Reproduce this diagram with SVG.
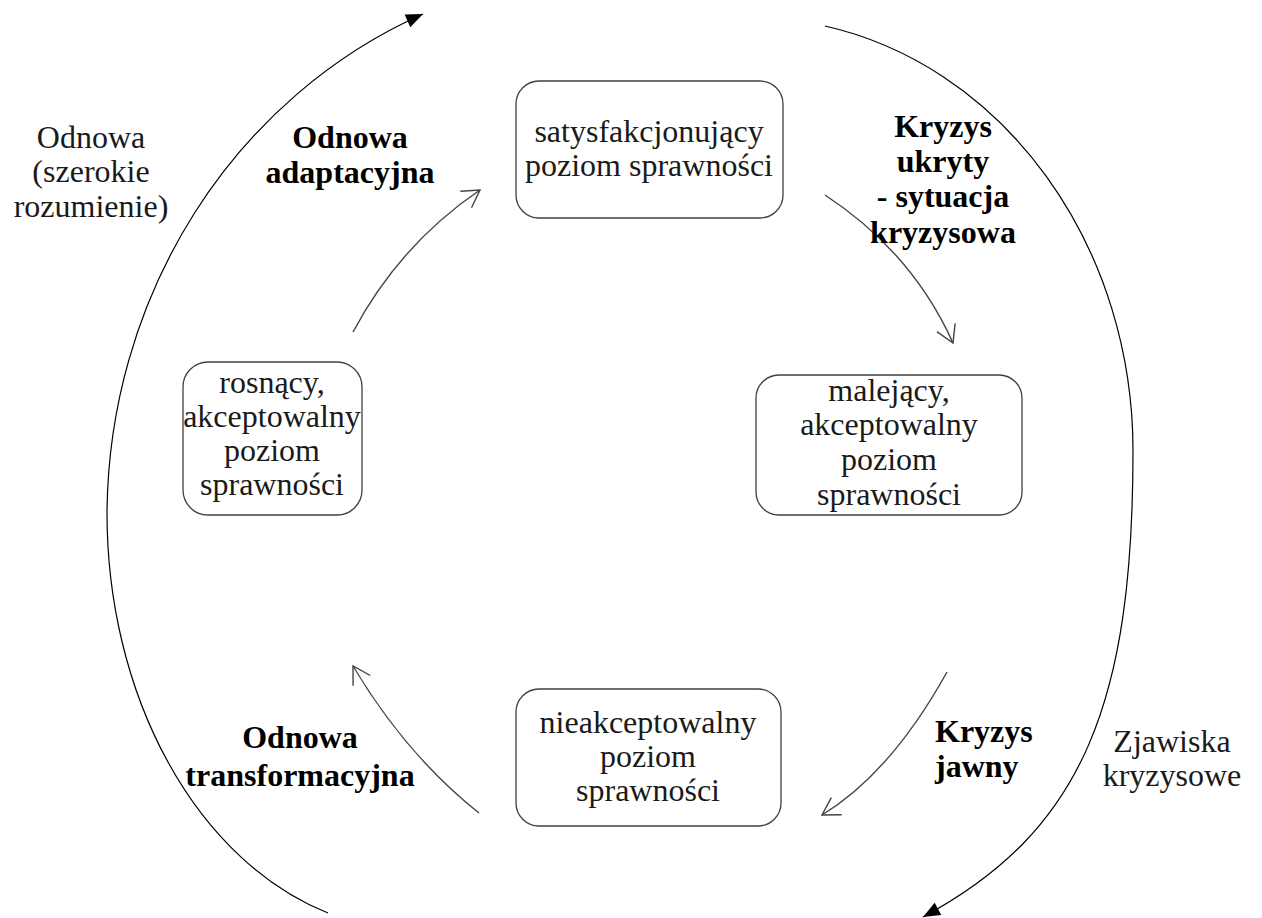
<svg xmlns="http://www.w3.org/2000/svg" width="1262" height="918" viewBox="0 0 1262 918">
  <defs>
    <style>
      .box { fill: #ffffff; stroke: #404040; stroke-width: 1.3; }
      .txt { font-family: "Liberation Serif", "Times New Roman", serif; font-size: 32px; fill: #1a1a1a; text-anchor: middle; }
      .lbl { font-family: "Liberation Serif", "Times New Roman", serif; font-size: 32px; font-weight: bold; fill: #000000; text-anchor: middle; }
      .lbl-start { text-anchor: start; }
      .outer { fill: none; stroke: #000000; stroke-width: 1.2; }
      .inner { fill: none; stroke: #444444; stroke-width: 1.4; }
    </style>
    <marker id="solidHead" markerUnits="userSpaceOnUse" viewBox="-19 -9 21 18" markerWidth="21" markerHeight="18" refX="0" refY="0" orient="auto">
      <path d="M0,0 L-17,-7 L-17,7 Z" fill="#000000"/>
    </marker>
    <marker id="openHead" markerUnits="userSpaceOnUse" viewBox="-20 -12 23 24" markerWidth="23" markerHeight="24" refX="0" refY="0" orient="auto">
      <path d="M-17,-10 L0,0 L-17,10" fill="none" stroke="#444444" stroke-width="1.4"/>
    </marker>
  </defs>

  <rect width="1262" height="918" fill="#ffffff"/>

  <!-- connectors -->
  <g id="connectors">
    <!-- outer renewal arc (left) and crisis arc (right) -->
    <path class="outer" d="M328,913 A308,417 0 0,1 107,513 A517,546 0 0,1 423,14" marker-end="url(#solidHead)"/>
    <path class="outer" d="M825,26 A383,433 0 0,1 1133,450 C1133,700 1085,830 923,917" marker-end="url(#solidHead)"/>
    <!-- inner cycle -->
    <path class="inner" d="M353,332 Q400,244 480,190" marker-end="url(#openHead)"/>
    <path class="inner" d="M825,195 Q912,252 953,343" marker-end="url(#openHead)"/>
    <path class="inner" d="M947,672 Q891,773 822,815" marker-end="url(#openHead)"/>
    <path class="inner" d="M479,813 Q406,755 353,666" marker-end="url(#openHead)"/>
  </g>

  <g id="node-satysfakcjonujacy">
    <rect class="box" x="516" y="81" width="267" height="137" rx="23"/>
    <text class="txt" x="649" y="142">satysfakcjonujący</text>
    <text class="txt" x="649" y="176">poziom sprawności</text>
  </g>

  <g id="node-malejacy">
    <rect class="box" x="756" y="375" width="266" height="140" rx="23"/>
    <text class="txt" x="889" y="401">malejący,</text>
    <text class="txt" x="889" y="435">akceptowalny</text>
    <text class="txt" x="889" y="470">poziom</text>
    <text class="txt" x="889" y="505">sprawności</text>
  </g>

  <g id="node-nieakceptowalny">
    <rect class="box" x="516" y="689" width="265" height="137" rx="23"/>
    <text class="txt" x="648" y="733">nieakceptowalny</text>
    <text class="txt" x="648" y="767">poziom</text>
    <text class="txt" x="648" y="801">sprawności</text>
  </g>

  <g id="node-rosnacy">
    <rect class="box" x="183" y="362" width="179" height="153" rx="25"/>
    <text class="txt" x="272" y="393">rosnący,</text>
    <text class="txt" x="272" y="427">akceptowalny</text>
    <text class="txt" x="272" y="461">poziom</text>
    <text class="txt" x="272" y="495">sprawności</text>
  </g>

  <!-- labels -->
  <g id="label-odnowa-szerokie">
    <text class="txt" x="91" y="148">Odnowa</text>
    <text class="txt" x="91" y="182">(szerokie</text>
    <text class="txt" x="91" y="217">rozumienie)</text>
  </g>
  <g id="label-odnowa-adaptacyjna">
    <text class="lbl" x="350" y="148">Odnowa</text>
    <text class="lbl" x="350" y="183">adaptacyjna</text>
  </g>
  <g id="label-kryzys-ukryty">
    <text class="lbl" x="943" y="137">Kryzys</text>
    <text class="lbl" x="943" y="172">ukryty</text>
    <text class="lbl" x="943" y="207">- sytuacja</text>
    <text class="lbl" x="943" y="243">kryzysowa</text>
  </g>
  <g id="label-kryzys-jawny">
    <text class="lbl lbl-start" x="935" y="742">Kryzys</text>
    <text class="lbl lbl-start" x="935" y="777">jawny</text>
  </g>
  <g id="label-odnowa-transformacyjna">
    <text class="lbl" x="300" y="748">Odnowa</text>
    <text class="lbl" x="300" y="786">transformacyjna</text>
  </g>
  <g id="label-zjawiska">
    <text class="txt" x="1172" y="752">Zjawiska</text>
    <text class="txt" x="1172" y="786">kryzysowe</text>
  </g>
</svg>
